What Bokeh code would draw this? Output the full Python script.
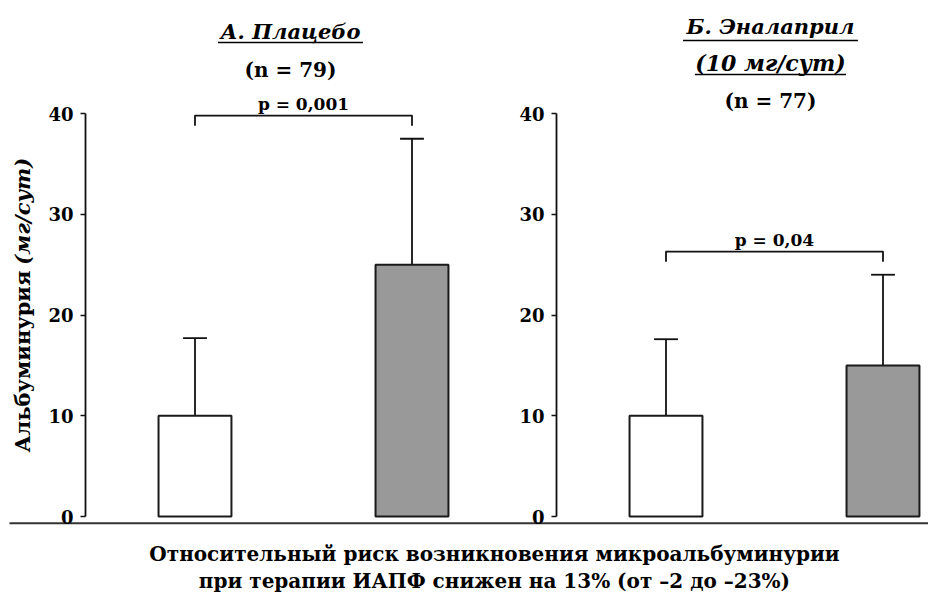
import math
from bokeh.plotting import figure
from bokeh.models import Range1d, LinearAxis, FixedTicker, ColumnDataSource
from bokeh.core.properties import value
from bokeh.embed import file_html
from bokeh.resources import INLINE

# ---------------- data ----------------
panel_titles = ["А. Плацебо", "Б. Эналаприл"]
panel_subtitles = ["", "(10 мг/сут)"]
n_labels = ["(n = 79)", "(n = 77)"]
p_values = ["p = 0,001", "p = 0,04"]
placebo_mean = [10, 25]
placebo_err_top = [17.7, 37.5]
enalapril_mean = [10, 15]
enalapril_err_top = [17.6, 24.0]
bar_colors = ["white", "#999999"]
y_ticks = [0, 10, 20, 30, 40]
y_label_main = "Альбуминурия"
y_label_unit = "(мг/сут)"
footer_lines = ["Относительный риск возникновения микроальбуминурии",
                "при терапии ИАПФ снижен на 13% (от –2 до –23%)"]

# ---------------- layout ----------------
SERIF = "DejaVu Serif"
panel_offset = [0.0, 2.1705]
bar_pos = [1.0, 2.0]
bar_w = 0.336
cap_half = 0.055
axis_pos = 0.4954
X0, X1 = 0.1037, 4.3802
Y0, Y1 = -7.64, 51.22

p = figure(width=928, height=593, output_backend="svg", toolbar_location=None,
           x_range=Range1d(X0, X1), y_range=Range1d(Y0, Y1),
           x_axis_type=None, y_axis_type=None, min_border=0)
p.outline_line_color = None
p.background_fill_color = "white"
p.border_fill_color = "white"

means = [placebo_mean, enalapril_mean]
errs = [placebo_err_top, enalapril_err_top]


def label(x, y, txt, size, style="bold", **kw):
    p.text(x=x, y=y, text=txt, text_font=value(SERIF), text_font_style=style,
           text_font_size=size, text_color="black",
           text_align=kw.pop("align", "center"), text_baseline=kw.pop("baseline", "middle"), **kw)


for i in range(2):
    off = panel_offset[i]
    xs = [b + off for b in bar_pos]
    src = ColumnDataSource(dict(x=xs, top=means[i], err=errs[i], color=bar_colors,
                                x0=[x - cap_half for x in xs], x1=[x + cap_half for x in xs]))
    # error bars (upper only)
    p.segment(x0="x", y0="top", x1="x", y1="err", source=src, line_color="#111111", line_width=1.8)
    p.segment(x0="x0", y0="err", x1="x1", y1="err", source=src, line_color="#111111", line_width=1.8)
    p.vbar(x="x", width=bar_w, top="top", bottom=0, source=src, fill_color="color",
           line_color="#1a1a1a", line_width=2)

    # axis
    ax = LinearAxis(fixed_location=axis_pos + off, bounds=(0, 40),
                    ticker=FixedTicker(ticks=y_ticks))
    ax.axis_line_width = 1.8
    ax.axis_line_color = "#111111"
    ax.major_tick_line_width = 1.5
    ax.major_tick_line_color = "#111111"
    ax.major_tick_out = 5
    ax.major_tick_in = 0
    ax.minor_tick_out = 0
    ax.minor_tick_in = 0
    ax.major_label_standoff = 7
    ax.major_label_text_font = SERIF
    ax.major_label_text_font_style = "bold"
    ax.major_label_text_font_size = "18px"
    ax.major_label_text_color = "black"
    p.add_layout(ax, "left")

    # significance bracket
    by = max(errs[i]) + 2.3
    p.line(x=[xs[0], xs[0], xs[1], xs[1]], y=[by - 1.0, by, by, by - 1.0],
           line_color="#111111", line_width=1.8)
    label([(xs[0] + xs[1]) / 2], [by + 1.1], [p_values[i]], "17px")

# titles
title_x = [1.44, 3.652]
label([title_x[0]], [48.14], [panel_titles[0]], "21px", "bold italic")
p.segment(x0=[title_x[0] - 0.334], y0=[47.05], x1=[title_x[0] + 0.334], y1=[47.05],
          line_color="black", line_width=1.5)
label([title_x[0]], [44.37], [n_labels[0]], "20px")

label([title_x[1]], [48.64], [panel_titles[1]], "21px", "bold italic")
p.segment(x0=[title_x[1] - 0.403], y0=[47.25], x1=[title_x[1] + 0.403], y1=[47.25],
          line_color="black", line_width=1.5)
label([title_x[1]], [45.0], [panel_subtitles[1]], "22px", "bold italic")
p.segment(x0=[title_x[1] - 0.348], y0=[43.87], x1=[title_x[1] + 0.348], y1=[43.87],
          line_color="black", line_width=1.5)
label([title_x[1]], [41.29], [n_labels[1]], "20px")

# y-axis label (rotated)
label([0.205], [6.35], [y_label_main], "21px", align="left", angle=math.pi / 2)
label([0.205], [25.0], [y_label_unit], "21px", "bold italic", align="left", angle=math.pi / 2)

# baseline across both panels
p.segment(x0=[0.145], y0=[-0.665], x1=[X1], y1=[-0.665], line_color="#333333", line_width=2)

# footer
label([2.38, 2.38], [-3.72, -6.42], footer_lines, "20px")

open("out.html", "w").write(file_html(p, INLINE))
